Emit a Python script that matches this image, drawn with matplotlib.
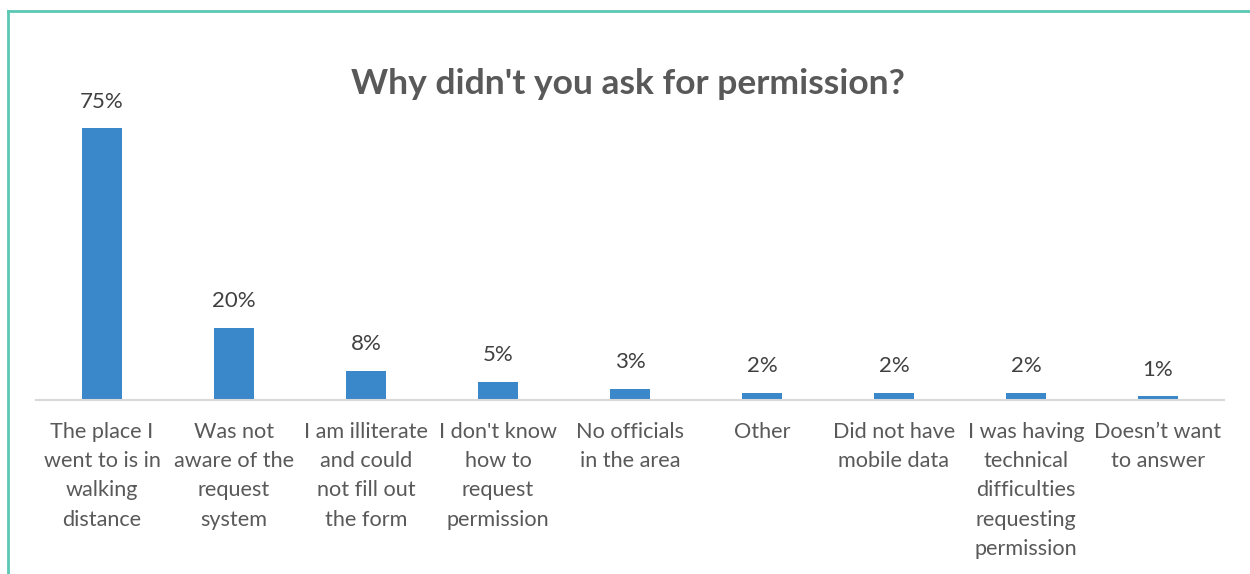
import matplotlib.pyplot as plt
import numpy as np

CATEGORIES = [
    "The place I\nwent to is in\nwalking\ndistance",
    "Was not\naware of the\nrequest\nsystem",
    "I am illiterate\nand could\nnot fill out\nthe form",
    "I don't know\nhow to\nrequest\npermission",
    "No officials\nin the area",
    "Other",
    "Did not have\nmobile data",
    "I was having\ntechnical\ndifficulties\nrequesting\npermission",
    "Doesn\u2019t want\nto answer",
]
VALUES = [75, 20, 8, 5, 3, 2, 2, 2, 1]

BAR_COLOR = "#3A87CA"
TEXT_COLOR = "#595959"
BORDER_COLOR = "#5BC8B5"

plt.rcParams["font.family"] = ["Lato", "DejaVu Sans"]

fig = plt.figure(figsize=(12.5, 5.74), dpi=100)
ax = fig.add_axes([0.0288, 0.3031, 0.9504, 0.505])

x = np.arange(len(VALUES))
ax.bar(x, VALUES, width=0.31, color=BAR_COLOR, zorder=2)
for xi, v in zip(x, VALUES):
    ax.annotate(f"{v}%", (xi, v), xytext=(0, 12), textcoords="offset points",
                ha="center", va="bottom", fontsize=16, color="#404040")

ax.set_xlim(-0.5, len(VALUES) - 0.5)
ax.set_ylim(0, 80)
ax.set_xticks(x)
ax.set_xticklabels(CATEGORIES, fontsize=15.6, color=TEXT_COLOR, va="top")
for t in ax.get_xticklabels():
    t.set_linespacing(1.57)
ax.tick_params(axis="x", length=0, pad=16)
ax.set_yticks([])
for side in ["top", "right", "left"]:
    ax.spines[side].set_visible(False)
ax.spines["bottom"].set_color("#D9D9D9")
ax.spines["bottom"].set_linewidth(1.5)

fig.text(0.502, 0.853, "Why didn't you ask for permission?", ha="center", va="center",
         fontsize=25.5, fontweight="bold", color=TEXT_COLOR)

# chart frame: left and top edges
fig.add_artist(plt.Line2D([0.0064, 0.0064], [0, 0.981], color=BORDER_COLOR, lw=2))
fig.add_artist(plt.Line2D([0.0064, 1.0], [0.981, 0.981], color=BORDER_COLOR, lw=2))

fig.savefig("out.png", dpi=100)
